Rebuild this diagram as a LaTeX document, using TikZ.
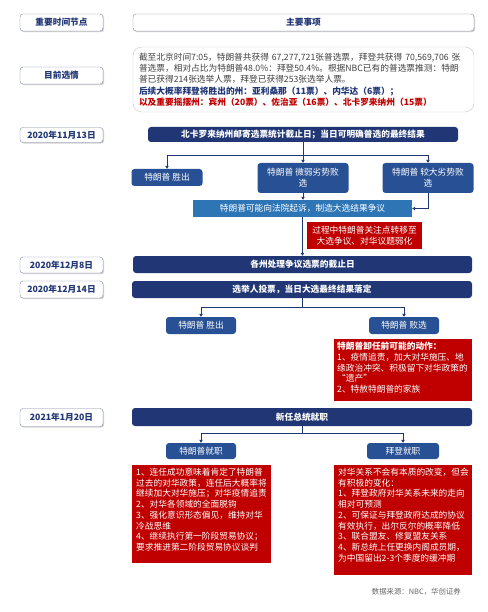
\documentclass[tikz,border=0pt]{standalone}
\usepackage{fontspec}
\setmainfont{Noto Sans CJK SC}
\usepackage{xcolor}
\usetikzlibrary{calc, positioning}
\usetikzlibrary{arrows.meta}
\usetikzlibrary{shadows}

\definecolor{navy}{RGB}{33,55,117}
\definecolor{midblue}{RGB}{40,80,148}
\definecolor{steel}{RGB}{46,117,182}
\definecolor{darkred}{RGB}{192,0,0}
\definecolor{frame}{RGB}{128,138,168}
\definecolor{bodygray}{RGB}{64,64,64}

\tikzset{
  every node/.style={font=\fontsize{8.7}{11.3}\selectfont, inner sep=0pt},
  datebox/.style={draw=frame, fill=white, rounded corners=3pt, text=navy,
    font=\fontsize{8.7}{11}\selectfont\bfseries, minimum width=83pt,
    drop shadow={shadow xshift=1.2pt, shadow yshift=-1.2pt, fill=black!35}},
  headbox/.style={fill=navy, text=white, rounded corners=3pt,
    font=\fontsize{8.7}{11}\selectfont\bfseries},
  subbox/.style={fill=midblue, text=white, rounded corners=3pt, align=center},
  redbox/.style={fill=darkred, text=white, align=left,
    font=\fontsize{8.7}{10.7}\selectfont},
  link/.style={navy, line width=0.8pt, -{Triangle[length=3pt,width=3.4pt]}},
  flow/.style={navy, line width=0.8pt}
}

\begin{document}
\begin{tikzpicture}[x=1pt,y=-1pt]
\useasboundingbox (0,0) rectangle (487,612);
% header row
\node[datebox, minimum height=17pt] (hdate) at (61.5,22.5) {重要时间节点};
\node[datebox, minimum width=341pt, minimum height=17pt] (hmain) at (303.5,22.5) {主要事项};
% current state
\node[datebox, minimum height=17pt] (dnow) at (61.5,75.5) {目前选情};
\node[draw=black!22, rounded corners=9pt, minimum width=341pt, minimum height=65pt,
  text=bodygray, align=left, text width=329pt] (now) at (303.5,79.5)
  {截至北京时间7:05，特朗普共获得 67,277,721张普选票，拜登共获得 70,569,706 张\\
   普选票，相对占比为特朗普48.0\%：拜登50.4\%。根据NBC已有的普选票推测：特朗\\
   普已获得214张选举人票，拜登已获得253张选举人票。\\
   {\bfseries\color{navy}后续大概率拜登将胜出的州：亚利桑那（11票）、内华达（6票）；}\\
   {\bfseries\color{darkred}以及重要摇摆州：宾州（20票）、佐治亚（16票）、北卡罗来纳州（15票）}};
% 2020-11-13
\node[datebox, minimum height=15pt] (d1113) at (61.5,135) {2020年11月13日};
\node[headbox, minimum width=310pt, minimum height=15pt] (h1113) at (303,134.5)
  {北卡罗来纳州邮寄选票统计截止日；当日可明确普选的最终结果};
\node[subbox, minimum width=71pt, minimum height=17pt] (win1) at (167,177.5) {特朗普 胜出};
\node[subbox, minimum width=91pt, minimum height=30pt] (lose1) at (303,178)
  {特朗普 微弱劣势败\\选};
\node[subbox, minimum width=91pt, minimum height=30pt] (lose2) at (428,178)
  {特朗普 较大劣势败\\选};
\coordinate (fork1) at (303,155);
\draw[link] (h1113.south) -- (lose1.north);
\draw[link] (fork1) -| (win1.north);
\draw[link] (fork1) -| (lose2.north);
\node[fill=steel, text=white, minimum width=219pt, minimum height=17pt] (sue) at (302.5,208.5)
  {特朗普可能向法院起诉，制造大选结果争议};
\draw[link] (lose1.south) -- (lose1.south |- sue.north);
\draw[link] (lose2.south) |- (sue.east);
\node[redbox, align=center, minimum width=115pt, minimum height=27pt] (shift) at (364.5,235.5)
  {过程中特朗普关注点转移至\\大选争议、对华议题弱化};
% 2020-12-08
\node[datebox, minimum height=16pt] (d1208) at (61.5,265) {2020年12月8日};
\node[headbox, minimum width=339pt, minimum height=17pt] (h1208) at (302.5,264.5)
  {各州处理争议选票的截止日};
\draw[link] (sue.south) -- (sue.south |- h1208.north);
% 2020-12-14
\node[datebox, minimum height=17pt] (d1214) at (61.5,289.5) {2020年12月14日};
\node[headbox, minimum width=340pt, minimum height=17pt] (h1214) at (302,289.5)
  {选举人投票，当日大选最终结果落定};
\node[subbox, minimum width=70pt, minimum height=17pt] (win2) at (201,325.5) {特朗普 胜出};
\node[subbox, minimum width=70pt, minimum height=17pt] (lose3) at (404,325.5) {特朗普 败选};
\coordinate (fork2) at (302,307);
\draw[flow] (h1214.south) -- (fork2);
\draw[link] (fork2) -| (win2.north);
\draw[link] (fork2) -| (lose3.north);
\node[redbox, anchor=north west, inner xsep=3pt, inner ysep=3pt] (exit) at (334,339)
  {\parbox[t][56pt][t]{132pt}{\raggedright
   \textbf{特朗普卸任前可能的动作：}\\
   1、疫情追责，加大对华施压、地\\
   缘政治冲突、积极留下对华政策的\\
   “遗产”\\
   2、特赦特朗普的家族}};
% 2021-01-20
\node[datebox, minimum height=18pt] (d0120) at (61.5,417.5) {2021年1月20日};
\node[headbox, minimum width=340pt, minimum height=18pt] (h0120) at (302,417) {新任总统就职};
\node[subbox, minimum width=70pt, minimum height=16pt] (trump) at (201,451) {特朗普就职};
\node[subbox, minimum width=72pt, minimum height=16pt] (biden) at (403,451) {拜登就职};
\coordinate (fork3) at (302,433);
\draw[flow] (h0120.south) -- (fork3);
\draw[link] (fork3) -| (trump.north);
\draw[link] (fork3) -| (biden.north);
\node[redbox, anchor=north west, inner xsep=4pt, inner ysep=3pt] (trumpnote) at (132,465)
  {\parbox[t][92pt][t]{131pt}{\raggedright
   1、连任成功意味着肯定了特朗普\\
   过去的对华政策，连任后大概率将\\
   继续加大对华施压；对华疫情追责\\
   2、对华各领域的全面脱钩\\
   3、强化意识形态偏见，维持对华\\
   冷战思维\\
   4、继续执行第一阶段贸易协议；\\
   要求推进第二阶段贸易协议谈判}};
\node[redbox, anchor=north west, inner xsep=4pt, inner ysep=3pt] (bidennote) at (334,465)
  {\parbox[t][104pt][t]{130pt}{\raggedright
   对华关系不会有本质的改变，但会\\
   有积极的变化：\\
   1、拜登政府对华关系未来的走向\\
   相对可预测\\
   2、可保证与拜登政府达成的协议\\
   有效执行，出尔反尔的概率降低\\
   3、联合盟友、修复盟友关系\\
   4、新总统上任更换内阁成员期，\\
   为中国留出2-3个季度的缓冲期}};
% source
\node[anchor=east, text=black!60, font=\fontsize{7.4}{9}\selectfont] (src) at (461,592)
  {数据来源：NBC，华创证券};
\end{tikzpicture}
\end{document}
